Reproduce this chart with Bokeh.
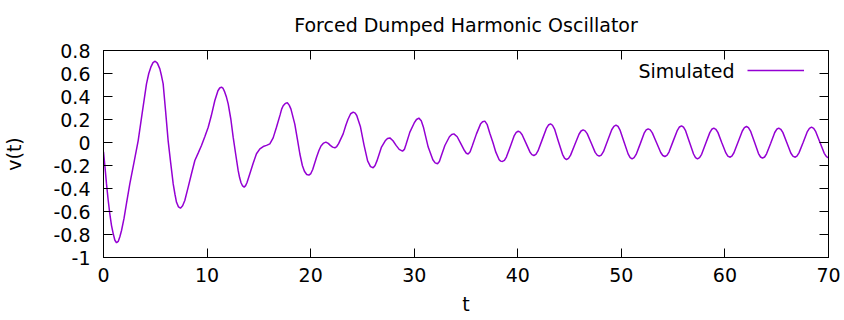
from bokeh.plotting import figure
from bokeh.models import FixedTicker, LinearAxis, Legend, LegendItem, Label, Range1d
from bokeh.embed import file_html
from bokeh.resources import INLINE

# ---- data ----
t_values = [
    0.0, 0.15, 0.29, 0.45, 0.61, 0.77, 0.93, 1.1, 1.26, 1.42, 1.58, 1.74, 1.98, 2.22,
    2.54, 2.95, 3.35, 3.77, 4.15, 4.37, 4.57, 4.78, 4.99, 5.2, 5.44, 5.6, 5.76, 5.99,
    6.24, 6.49, 6.73, 6.9, 7.05, 7.24, 7.43, 7.64, 7.85, 8.17, 8.5, 8.82, 9.15, 9.46,
    9.78, 10.11, 10.4, 10.75, 11.05, 11.22, 11.39, 11.55, 11.7, 11.87, 12.04, 12.3, 12.52,
    12.76, 13.0, 13.14, 13.28, 13.43, 13.58, 13.72, 13.85, 14.13, 14.45, 14.77, 15.1,
    15.42, 15.74, 16.06, 16.38, 16.7, 17.05, 17.2, 17.35, 17.55, 17.75, 17.93, 18.1,
    18.47, 18.72, 18.96, 19.2, 19.4, 19.62, 19.83, 20.02, 20.2, 20.57, 20.8, 21.0, 21.25,
    21.47, 21.7, 21.9, 22.12, 22.34, 22.52, 22.7, 23.14, 23.4, 23.6, 23.86, 24.11, 24.3,
    24.45, 24.8, 25.15, 25.5, 25.78, 26.04, 26.22, 26.4, 26.84, 27.2, 27.42, 27.65, 27.95,
    28.25, 28.55, 28.87, 29.05, 29.2, 29.58, 30.0, 30.22, 30.45, 30.68, 30.9, 31.35, 31.8,
    32.02, 32.25, 32.43, 32.6, 32.96, 33.4, 33.62, 33.83, 34.15, 34.5, 34.85, 35.03,
    35.21, 35.4, 35.6, 36.01, 36.4, 36.6, 36.82, 37.05, 37.3, 37.6, 37.88, 38.2, 38.35,
    38.52, 38.71, 38.9, 39.28, 39.66, 39.85, 40.04, 40.23, 40.42, 40.8, 41.17, 41.36,
    41.55, 41.75, 41.95, 42.36, 42.76, 42.96, 43.16, 43.35, 43.55, 43.93, 44.32, 44.51,
    44.7, 44.9, 45.1, 45.5, 45.91, 46.11, 46.31, 46.5, 46.7, 47.09, 47.47, 47.67, 47.86,
    48.06, 48.27, 48.67, 49.07, 49.28, 49.48, 49.68, 49.87, 50.26, 50.65, 50.85, 51.04,
    51.23, 51.43, 51.82, 52.2, 52.4, 52.59, 52.79, 52.99, 53.4, 53.8, 54.0, 54.2, 54.4,
    54.6, 55.0, 55.41, 55.61, 55.81, 56.0, 56.2, 56.58, 56.97, 57.16, 57.35, 57.55, 57.75,
    58.14, 58.54, 58.73, 58.93, 59.12, 59.32, 59.7, 60.09, 60.28, 60.47, 60.67, 60.87,
    61.28, 61.68, 61.88, 62.08, 62.27, 62.47, 62.86, 63.24, 63.44, 63.63, 63.83, 64.02,
    64.42, 64.81, 65.0, 65.2, 65.39, 65.59, 65.98, 66.36, 66.56, 66.75, 66.95, 67.15,
    67.56, 67.96, 68.16, 68.36, 68.57, 68.77, 69.18, 69.59, 69.8, 70.0,
]
v_values = [
    -0.08, -0.22, -0.36, -0.5, -0.62, -0.72, -0.79, -0.85, -0.872, -0.86, -0.82, -0.765,
    -0.66, -0.53, -0.36, -0.17, 0.017, 0.278, 0.51, 0.6, 0.655, 0.695, 0.707, 0.69, 0.64,
    0.58, 0.51, 0.278, 0.017, -0.18, -0.36, -0.45, -0.52, -0.56, -0.571, -0.55, -0.504,
    -0.39, -0.27, -0.157, -0.09, -0.026, 0.05, 0.133, 0.23, 0.365, 0.45, 0.474, 0.481,
    0.47, 0.44, 0.395, 0.336, 0.2, 0.046, -0.1, -0.243, -0.305, -0.35, -0.378, -0.388,
    -0.375, -0.35, -0.272, -0.18, -0.098, -0.055, -0.035, -0.025, -0.012, 0.04, 0.133,
    0.24, 0.29, 0.32, 0.34, 0.345, 0.325, 0.29, 0.16, 0.03, -0.1, -0.2, -0.25, -0.278,
    -0.284, -0.27, -0.235, -0.128, -0.07, -0.03, -0.005, 0.003, -0.008, -0.025, -0.04,
    -0.046, -0.035, -0.01, 0.075, 0.15, 0.2, 0.25, 0.264, 0.255, 0.235, 0.14, -0.02, -0.16,
    -0.21, -0.22, -0.2, -0.16, -0.04, 0.015, 0.035, 0.04, 0.015, -0.025, -0.06, -0.075,
    -0.06, -0.02, 0.09, 0.17, 0.2, 0.212, 0.19, 0.13, -0.04, -0.15, -0.177, -0.185, -0.165,
    -0.12, -0.026, 0.05, 0.07, 0.075, 0.05, -0.01, -0.07, -0.093, -0.1, -0.08, -0.03,
    0.075, 0.16, 0.18, 0.186, 0.155, 0.08, 0.0, -0.084, -0.15, -0.162, -0.165, -0.155,
    -0.127, -0.034, 0.06, 0.088, 0.098, 0.09, 0.067, -0.008, -0.082, -0.105, -0.113,
    -0.103, -0.073, 0.025, 0.122, 0.152, 0.162, 0.15, 0.117, 0.007, -0.103, -0.136, -0.148,
    -0.138, -0.11, -0.019, 0.072, 0.1, 0.11, 0.101, 0.077, -0.005, -0.086, -0.11, -0.119,
    -0.109, -0.08, 0.016, 0.111, 0.141, 0.151, 0.14, 0.108, 0.005, -0.099, -0.131, -0.142,
    -0.132, -0.104, -0.012, 0.081, 0.109, 0.119, 0.11, 0.084, -0.002, -0.087, -0.113,
    -0.122, -0.112, -0.083, 0.012, 0.106, 0.135, 0.145, 0.134, 0.103, 0.002, -0.1, -0.131,
    -0.142, -0.132, -0.103, -0.008, 0.086, 0.115, 0.125, 0.115, 0.088, -0.002, -0.091,
    -0.118, -0.128, -0.118, -0.089, 0.006, 0.1, 0.129, 0.139, 0.129, 0.099, 0.002, -0.096,
    -0.126, -0.136, -0.126, -0.098, -0.006, 0.087, 0.115, 0.125, 0.115, 0.088, -0.002,
    -0.091, -0.118, -0.128, -0.118, -0.09, 0.003, 0.095, 0.123, 0.133, 0.123, 0.094, 0.0,
    -0.094, -0.123, -0.133,
]
series_name = "Simulated"
x_title = "t"
y_title = "v(t)"
x_ticks = [0, 10, 20, 30, 40, 50, 60, 70]
x_tick_labels = ["0", "10", "20", "30", "40", "50", "60", "70"]
y_ticks = [-1, -0.8, -0.6, -0.4, -0.2, 0, 0.2, 0.4, 0.6, 0.8]
y_tick_labels = ["-1", "-0.8", "-0.6", "-0.4", "-0.2", "0", "0.2", "0.4", "0.6", "0.8"]

FONT = "DejaVu Sans"
FS = "19px"
LINE_COLOR = "#9400D3"

p = figure(
    width=844, height=320, output_backend="svg", toolbar_location=None,
    x_range=Range1d(0, 70), y_range=Range1d(-1, 0.8),
    min_border_left=102, min_border_right=16, min_border_top=50, min_border_bottom=63,
    title="Forced Dumped Harmonic Oscillator",
)
p.background_fill_color = "white"
p.border_fill_color = "white"
p.outline_line_color = "black"
p.outline_line_width = 1
p.xgrid.visible = False
p.ygrid.visible = False

p.title.align = "center"
p.title.vertical_align = "top"
p.title.text_font = FONT
p.title.text_font_size = FS
p.title.text_font_style = "normal"
p.title.text_color = "black"
p.title.standoff = 26

def style_axis(ax, ticks, labels, show_labels):
    ax.ticker = FixedTicker(ticks=ticks)
    ax.major_label_overrides = {k: s for k, s in zip(ticks, labels)}
    ax.major_tick_in = 9
    ax.major_tick_out = 0
    ax.minor_tick_line_color = None
    ax.axis_line_color = "black"
    ax.axis_line_width = 1
    ax.major_tick_line_color = "black"
    ax.major_tick_line_width = 1
    ax.major_label_text_font = FONT
    ax.major_label_text_color = "black"
    if show_labels:
        ax.major_label_text_font_size = FS
    else:
        ax.major_label_text_font_size = "0px"
        ax.major_label_text_color = None
        ax.major_label_standoff = 0

style_axis(p.xaxis[0], x_ticks, x_tick_labels, True)
style_axis(p.yaxis[0], y_ticks, y_tick_labels, True)
p.xaxis[0].major_label_standoff = 10
p.yaxis[0].major_label_standoff = 13

p.xaxis[0].axis_label = x_title
p.yaxis[0].axis_label = y_title
for ax in (p.xaxis[0], p.yaxis[0]):
    ax.axis_label_text_font = FONT
    ax.axis_label_text_font_size = FS
    ax.axis_label_text_font_style = "normal"
    ax.axis_label_text_color = "black"
p.yaxis[0].axis_label_standoff = 25
p.xaxis[0].axis_label_text_line_height = 0.1
p.xaxis[0].axis_label_standoff = 8

top_axis = LinearAxis()
right_axis = LinearAxis()
style_axis(top_axis, x_ticks, x_tick_labels, False)
style_axis(right_axis, y_ticks, y_tick_labels, False)
p.add_layout(top_axis, "above")
p.add_layout(right_axis, "right")

r = p.line(t_values, v_values, line_color=LINE_COLOR, line_width=1.5)

legend = Legend(
    items=[LegendItem(label=" ", renderers=[r])],
    location=(644, 175), margin=0, padding=0,
    glyph_width=57, glyph_height=24, label_height=24, label_width=0, label_standoff=0,
    border_line_color=None, background_fill_alpha=0,
    label_text_font_size="10px",
)
p.add_layout(legend)

p.add_layout(Label(
    x=631, y=187, x_units="screen", y_units="screen", text=series_name,
    text_align="right", text_baseline="middle", text_font=FONT, text_font_size=FS,
    text_color="black",
))

open("out.html", "w").write(file_html(p, INLINE))
